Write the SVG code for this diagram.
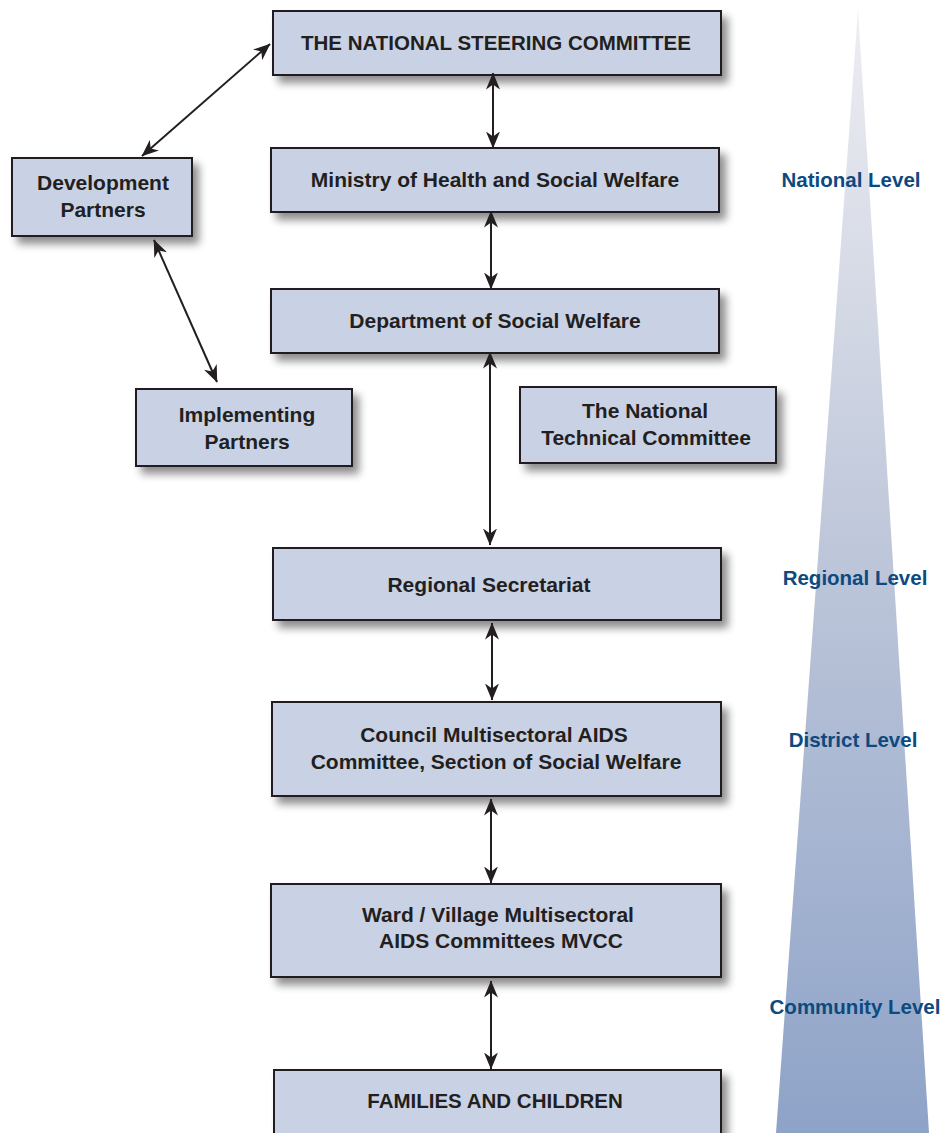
<svg xmlns="http://www.w3.org/2000/svg" width="952" height="1133" viewBox="0 0 952 1133">
<defs>
<linearGradient id="tri" x1="0" y1="10" x2="0" y2="1133" gradientUnits="userSpaceOnUse">
<stop offset="0" stop-color="#eeeef2"/>
<stop offset="0.5" stop-color="#bcc5d9"/>
<stop offset="1" stop-color="#8ea3c8"/>
</linearGradient>
<filter id="sh" x="-10%" y="-20%" width="130%" height="160%">
<feGaussianBlur in="SourceAlpha" stdDeviation="4"/>
<feOffset dx="6" dy="7" result="b"/>
<feComponentTransfer><feFuncA type="linear" slope="0.45"/></feComponentTransfer>
<feMerge><feMergeNode/><feMergeNode in="SourceGraphic"/></feMerge>
</filter>
<marker id="ah" viewBox="0 0 17 14" refX="16.5" refY="7" markerWidth="17" markerHeight="14" markerUnits="userSpaceOnUse" orient="auto-start-reverse">
<path d="M0,0 L17,7 L0,14 L5,7 Z" fill="#231f20"/>
</marker>
</defs>
<style>
.box{fill:#c9d2e5;stroke:#231f20;stroke-width:2;filter:url(#sh)}
.t{font-family:"Liberation Sans",Arial,sans-serif;font-weight:bold;font-size:21px;fill:#231f20;text-anchor:middle}
.cap{font-size:20.5px}
.lv{font-family:"Liberation Sans",Arial,sans-serif;font-weight:bold;font-size:20.5px;fill:#0c4a80;text-anchor:middle}
.c{stroke:#231f20;stroke-width:2;fill:none;marker-start:url(#ah);marker-end:url(#ah)}
</style>
<rect width="952" height="1133" fill="#ffffff"/>
<polygon points="858,10 929,1133 776,1133" fill="url(#tri)"/>
<g id="levels">
<text class="lv" x="851" y="187">National Level</text>
<text class="lv" x="855" y="585">Regional Level</text>
<text class="lv" x="853" y="747">District Level</text>
<text class="lv" x="855" y="1014">Community Level</text>
</g>
<g id="n-nsc"><rect class="box" x="273" y="11" width="448" height="64"/><text class="t cap" x="496" y="50">THE NATIONAL STEERING COMMITTEE</text></g>
<g id="n-ministry"><rect class="box" x="271" y="148" width="448" height="64"/><text class="t" x="495" y="187">Ministry of Health and Social Welfare</text></g>
<g id="n-dept"><rect class="box" x="271" y="289" width="448" height="64"/><text class="t" x="495" y="328">Department of Social Welfare</text></g>
<g id="n-dev"><rect class="box" x="12" y="158" width="180" height="78"/><text class="t" x="103" y="190">Development</text><text class="t" x="103" y="217">Partners</text></g>
<g id="n-impl"><rect class="box" x="136" y="389" width="216" height="77"/><text class="t" x="247" y="422">Implementing</text><text class="t" x="247" y="449">Partners</text></g>
<g id="n-ntc"><rect class="box" x="520" y="387" width="256" height="76"/><text class="t" x="645" y="418">The National</text><text class="t" x="646" y="445">Technical Committee</text></g>
<g id="n-regional"><rect class="box" x="273" y="548" width="448" height="72"/><text class="t" x="489" y="592">Regional Secretariat</text></g>
<g id="n-council"><rect class="box" x="272" y="702" width="449" height="94"/><text class="t" x="494" y="742">Council Multisectoral AIDS</text><text class="t" x="496" y="769">Committee, Section of Social Welfare</text></g>
<g id="n-ward"><rect class="box" x="271" y="884" width="450" height="93"/><text class="t" x="498" y="922">Ward / Village Multisectoral</text><text class="t" x="501" y="948">AIDS Committees MVCC</text></g>
<g id="n-families"><rect class="box" x="274" y="1070" width="447" height="80"/><text class="t cap" x="495" y="1108">FAMILIES AND CHILDREN</text></g>
<g id="connectors">
<line class="c" x1="493" y1="73" x2="493" y2="148"/>
<line class="c" x1="491" y1="211" x2="491" y2="289"/>
<line class="c" x1="490" y1="352" x2="490" y2="545"/>
<line class="c" x1="492" y1="623" x2="492" y2="700"/>
<line class="c" x1="491" y1="799" x2="491" y2="883"/>
<line class="c" x1="491" y1="981" x2="491" y2="1069"/>
<line class="c" x1="142" y1="156" x2="270" y2="44"/>
<line class="c" x1="154" y1="240" x2="217" y2="382"/>
</g>
</svg>
